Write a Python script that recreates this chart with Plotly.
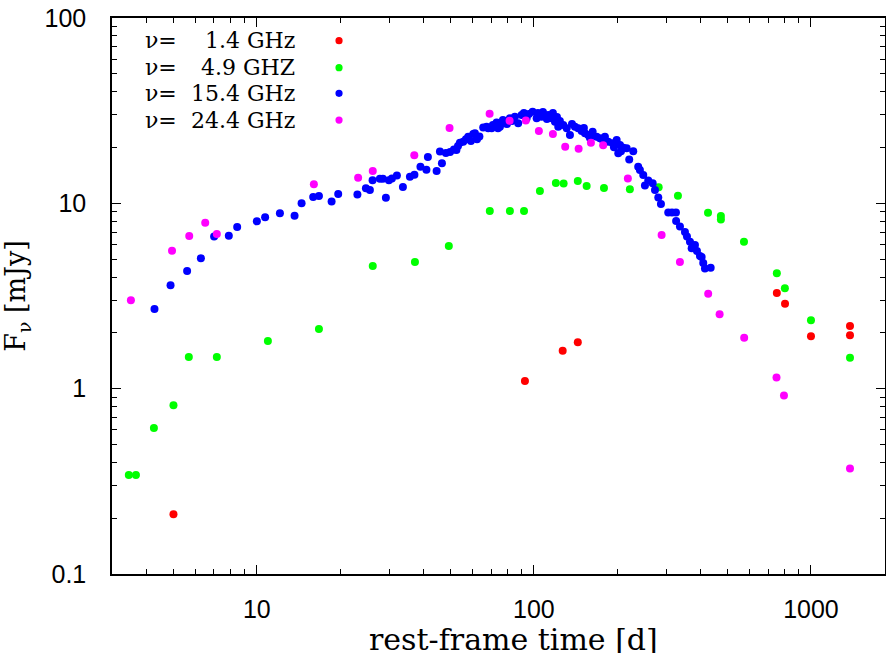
import plotly.graph_objects as go

# ---- data (rest-frame time [d], flux density [mJy]) ----
t_14 = [5.0, 92.8, 127, 144, 753, 806, 1000, 1383, 1383]
f_14 = [0.21, 1.1, 1.6, 1.78, 3.28, 2.87, 1.92, 2.18, 1.94]

t_49 = [3.45, 3.66, 4.25, 5.0, 5.68, 7.17, 10.96, 16.75, 26.2, 37.2, 49.3,
        69.3, 81.9, 92.1, 105.1, 120, 128, 144, 155, 179, 222, 282, 331,
        425, 473, 473, 573, 753, 805, 1000, 1383]
f_49 = [0.342, 0.342, 0.613, 0.815, 1.48, 1.48, 1.81, 2.10, 4.59, 4.82, 5.88,
        9.09, 9.09, 9.09, 11.65, 12.87, 12.8, 13.2, 12.4, 12.1, 11.9, 12.2, 11.0,
        8.9, 8.54, 8.18, 6.21, 4.19, 3.48, 2.34, 1.47]

t_154 = [4.27, 4.88, 5.60, 6.28, 7.01, 7.92, 8.49, 10.0, 10.71, 12.11, 13.68,
         14.50, 15.97, 16.75, 18.61, 19.66, 23.06, 24.75, 25.58, 26.16, 27.80,
         28.50, 29.22, 29.96, 30.72, 32.02, 33.66, 35.68, 37.04, 38.94, 40.92,
         41.43, 44.55, 45.79, 46.55, 48.12, 49.8, 51.43, 52.51, 53.2, 54.06,
         55.56, 56.82, 57.91, 59.24, 60.39, 61.24, 62.3, 63.57, 65.61, 67.49,
         68.39, 70.36, 71.1, 73.35, 74.2, 75.40, 77.3, 78.60, 79.9, 81.90,
         83.3, 85.37, 87.74, 90.28, 92.0, 94.10, 95.9, 98.92, 102.3, 103.4,
         106.6, 107.8, 109.6, 111.4, 112.6, 115.9, 117.1, 119.1, 121.1, 122.4,
         124.1, 127.6, 131.3, 134.9, 137.2, 140.6, 144.5, 148.7, 151.5, 152.8,
         157.0, 159.3, 162.9, 168.4, 173.1, 177.4, 180.4, 185.5, 192.4, 194.5,
         198.9, 201.6, 204.5, 206.2, 210.2, 216.2, 220.8, 228.3, 237.9, 241.3,
         248.1, 251.6, 258.6, 268.3, 273.5, 281.1, 287.4, 305.4, 315.0, 325.6,
         326.0, 336.6, 350.9, 356.8, 365.8, 371.0, 381.3, 387.7, 397.5, 403.1,
         408.5, 414.3, 434.5]
f_154 = [2.69, 3.61, 4.31, 5.05, 6.63, 6.69, 7.45, 8.00, 8.40, 8.83, 8.57,
         10.0, 10.81, 10.95, 10.23, 11.22, 11.16, 12.05, 11.80, 13.31, 13.58,
         13.58, 10.72, 13.31, 13.61, 14.13, 12.25, 13.92, 14.27, 15.76, 15.18,
         17.78, 14.94, 19.03, 16.44, 18.68, 18.9, 19.51, 19.39, 20.4, 21.23,
         21.50, 22.15, 22.88, 21.69, 23.66, 23.87, 22.2, 22.94, 25.65, 25.91,
         25.39, 25.39, 26.46, 27.29, 25.39, 25.91, 28.15, 27.02, 26.8, 28.75,
         27.8, 29.33, 27.02, 29.96, 30.7, 28.75, 30.3, 31.21, 28.75, 30.7,
         29.33, 31.1, 29.70, 28.5, 29.96, 28.75, 30.7, 27.57, 29.2, 25.91,
         27.8, 26.46, 25.39, 23.36, 26.8, 25.91, 25.39, 24.56, 25.5, 23.87,
         23.36, 22.5, 24.35, 22.88, 22.43, 21.96, 22.88, 21.50, 21.08, 20.1,
         21.96, 18.61, 20.63, 19.1, 19.95, 19.81, 17.23, 19.08, 15.76, 15.12,
         14.21, 12.48, 13.27, 12.82, 11.80, 10.75, 9.91, 8.92, 8.92, 8.92,
         8.03, 7.49, 7.00, 6.62, 6.21, 5.72, 5.96, 5.53, 5.20, 5.13,
         4.76, 4.45, 4.49]

t_244 = [3.51, 4.94, 5.70, 6.51, 7.17, 16.06, 23.2, 26.2, 37.0, 49.6, 69.2,
         81.7, 93.5, 104.2, 117.1, 129.7, 145, 160.6, 177.8, 218.3, 289, 336.5,
         425.6, 468, 574, 751, 799, 1383]
f_244 = [3.0, 5.55, 6.66, 7.86, 6.83, 12.66, 13.75, 14.94, 18.2, 25.5, 30.4,
         27.9, 28.0, 24.6, 23.7, 20.2, 19.7, 21.2, 20.6, 13.6, 6.74, 4.82,
         3.25, 2.52, 1.88, 1.15, 0.92, 0.371]

series_labels = [("1.4 GHz", "#ff0000"), ("4.9 GHZ", "#00ff00"),
                 ("15.4 GHz", "#0000ff"), ("24.4 GHz", "#ff00ff")]

x_ticks = [10, 100, 1000]
y_ticks = [0.1, 1, 10, 100]
y_ticktext = ["0.1", "1", "10", "100"]

SANS = "Liberation Sans, Arial, sans-serif"
SERIF = "DejaVu Serif, serif"

fig = go.Figure()
for (t, f), (lab, col) in zip([(t_14, f_14), (t_49, f_49), (t_154, f_154), (t_244, f_244)],
                              series_labels):
    fig.add_trace(go.Scatter(x=t, y=f, mode="markers", name=lab,
                             marker=dict(color=col, size=8, line=dict(width=0)),
                             showlegend=False, hoverinfo="skip"))

# key (gnuplot style: text right-aligned, symbol to the right)
key_y = [0.9592, 0.9106, 0.8646, 0.8165]
for (lab, col), ky in zip(series_labels, key_y):
    fig.add_annotation(xref="paper", yref="paper", x=0.0401, y=ky, text="ν=",
                       showarrow=False, xanchor="left", yanchor="middle",
                       font=dict(family=SERIF, size=22, color="black"))
    fig.add_annotation(xref="paper", yref="paper", x=0.2393, y=ky, text=lab,
                       showarrow=False, xanchor="right", yanchor="middle",
                       font=dict(family=SERIF, size=22, color="black"))
    fig.add_shape(type="circle", xref="paper", yref="paper",
                  xsizemode="pixel", ysizemode="pixel",
                  xanchor=0.2937, yanchor=ky, x0=-3.6, x1=3.6, y0=-3.6, y1=3.6,
                  fillcolor=col, line=dict(width=0))

# x-axis title (gnuplot centres it on the full canvas)
fig.add_annotation(xref="paper", yref="paper", x=0.52, y=-0.1187,
                   text="rest-frame time [d]", showarrow=False,
                   xanchor="center", yanchor="middle",
                   font=dict(family=SERIF, size=30, color="black"))

axis_common = dict(type="log", showline=True, linecolor="black", linewidth=1.5,
                   mirror="ticks", ticks="inside", ticklen=9, tickwidth=1,
                   tickcolor="black", showgrid=False, zeroline=False,
                   automargin=False,
                   tickfont=dict(family=SANS, size=25, color="black"),
                   minor=dict(ticks="inside", ticklen=5, tickwidth=1,
                              tickcolor="black", dtick="D1", showgrid=False))

fig.update_xaxes(**axis_common, range=[0.4771, 3.2672],
                 tickvals=x_ticks, ticktext=[str(v) for v in x_ticks],
                 ticklabelstandoff=12)
fig.update_yaxes(**axis_common, range=[-1, 2],
                 tickvals=y_ticks, ticktext=y_ticktext,
                 ticklabelstandoff=19,
                 title=dict(text="F<sub>ν</sub> [mJy]", standoff=12,
                            font=dict(family=SERIF, size=27, color="black")))

fig.update_layout(width=886, height=653, autosize=False,
                  margin=dict(l=112, r=1, t=18, b=79),
                  plot_bgcolor="white", paper_bgcolor="white")

fig.write_html("out.html", config={"displayModeBar": False},
               post_script="document.body.style.margin='0';document.body.style.overflow='hidden';")
